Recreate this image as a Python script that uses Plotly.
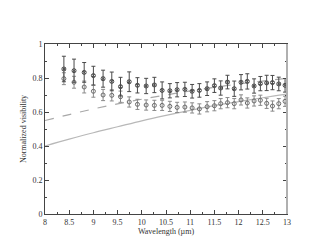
import plotly.graph_objects as go

wavelength = [8.39, 8.60, 8.81, 9.00, 9.20, 9.38, 9.56, 9.74, 9.91, 10.09, 10.26, 10.42,
              10.58, 10.73, 10.89, 11.04, 11.19, 11.35, 11.50, 11.63, 11.77, 11.91,
              12.05, 12.18, 12.32, 12.45, 12.58, 12.70, 12.83, 12.96]
vis_upper = [0.853, 0.843, 0.833, 0.814, 0.796, 0.780, 0.749, 0.778, 0.757, 0.753, 0.759, 0.727,
             0.725, 0.731, 0.733, 0.722, 0.727, 0.737, 0.755, 0.741, 0.776, 0.737,
             0.775, 0.780, 0.753, 0.767, 0.771, 0.773, 0.765, 0.757]
err_upper = [0.075, 0.068, 0.058, 0.055, 0.050, 0.055, 0.055, 0.058, 0.045, 0.045, 0.045, 0.050,
             0.042, 0.042, 0.042, 0.040, 0.040, 0.040, 0.040, 0.042, 0.040, 0.045,
             0.045, 0.045, 0.042, 0.042, 0.045, 0.042, 0.040, 0.040]
vis_lower = [0.796, 0.775, 0.747, 0.722, 0.700, 0.698, 0.690, 0.659, 0.645, 0.641, 0.639, 0.639,
             0.633, 0.627, 0.629, 0.624, 0.618, 0.631, 0.637, 0.649, 0.655, 0.649,
             0.671, 0.653, 0.665, 0.669, 0.651, 0.635, 0.649, 0.663]
err_lower = [0.035, 0.035, 0.035, 0.035, 0.033, 0.033, 0.033, 0.030, 0.030, 0.030, 0.030, 0.030,
             0.030, 0.030, 0.030, 0.030, 0.030, 0.030, 0.030, 0.030, 0.030, 0.030,
             0.030, 0.030, 0.030, 0.030, 0.030, 0.030, 0.030, 0.030]

model_wl = [8.0, 8.5, 9.0, 9.5, 10.0, 10.5, 11.0, 11.5, 12.0, 12.5, 13.0]
model_solid = [0.400, 0.440, 0.478, 0.513, 0.548, 0.580, 0.610, 0.637, 0.661, 0.684, 0.705]
model_dashed = [0.550, 0.585, 0.618, 0.648, 0.675, 0.700, 0.724, 0.745, 0.765, 0.782, 0.798]

x_ticks = [8, 8.5, 9, 9.5, 10, 10.5, 11, 11.5, 12, 12.5, 13]
x_ticklabels = ["8", "8.5", "9", "9.5", "10", "10.5", "11", "11.5", "12", "12.5", "13"]
y_ticks = [0, 0.2, 0.4, 0.6, 0.8, 1]
y_ticklabels = ["0", "0.2", "0.4", "0.6", "0.8", "1"]

fig = go.Figure()
fig.add_trace(go.Scatter(x=model_wl, y=model_solid, mode="lines",
                         line=dict(color="#b8b8b8", width=1.2, shape="spline"), showlegend=False))
fig.add_trace(go.Scatter(x=model_wl, y=model_dashed, mode="lines",
                         line=dict(color="#a8a8a8", width=1.2, dash="dash", shape="spline"), showlegend=False))
fig.add_trace(go.Scatter(x=wavelength, y=vis_lower, mode="markers",
                         marker=dict(symbol="circle-open", size=4, color="#6a6a6a", line=dict(width=1)),
                         error_y=dict(type="data", array=err_lower, color="#8a8a8a", thickness=1, width=2),
                         showlegend=False))
fig.add_trace(go.Scatter(x=wavelength, y=vis_upper, mode="markers",
                         marker=dict(symbol="circle-x-open", size=4, color="#4a4a4a", line=dict(width=1)),
                         error_y=dict(type="data", array=err_upper, color="#4a4a4a", thickness=1, width=2),
                         showlegend=False))

font = dict(family="Liberation Serif", size=8, color="#333333")
fig.update_layout(
    width=314, height=243,
    margin=dict(l=37, r=35, t=36, b=37),
    paper_bgcolor="white", plot_bgcolor="white",
    font=font,
    xaxis=dict(range=[8, 13], tickvals=x_ticks, ticktext=x_ticklabels, ticks="inside", ticklen=4,
               tickcolor="#444", showline=True, linecolor="#444", linewidth=1, mirror="ticks",
               showgrid=False, zeroline=False, tickfont=font,
               minor=dict(ticks="inside", ticklen=2, dtick=0.25, tickcolor="#444", showgrid=False),
               title=dict(text="Wavelength (µm)", font=font, standoff=2)),
    yaxis=dict(range=[0, 1], tickvals=y_ticks, ticktext=y_ticklabels, ticks="inside", ticklen=4,
               tickcolor="#444", showline=True, linecolor="#444", linewidth=1, mirror="ticks",
               showgrid=False, zeroline=False, tickfont=font,
               minor=dict(ticks="inside", ticklen=2, dtick=0.1, tickcolor="#444", showgrid=False),
               title=dict(text="Normalized visibility", font=font, standoff=4)),
)
fig.add_shape(type="line", xref="paper", yref="paper", x0=1, x1=1, y0=0, y1=1,
              line=dict(color="#b0b0b0", width=2))
fig.write_html("out.html")
